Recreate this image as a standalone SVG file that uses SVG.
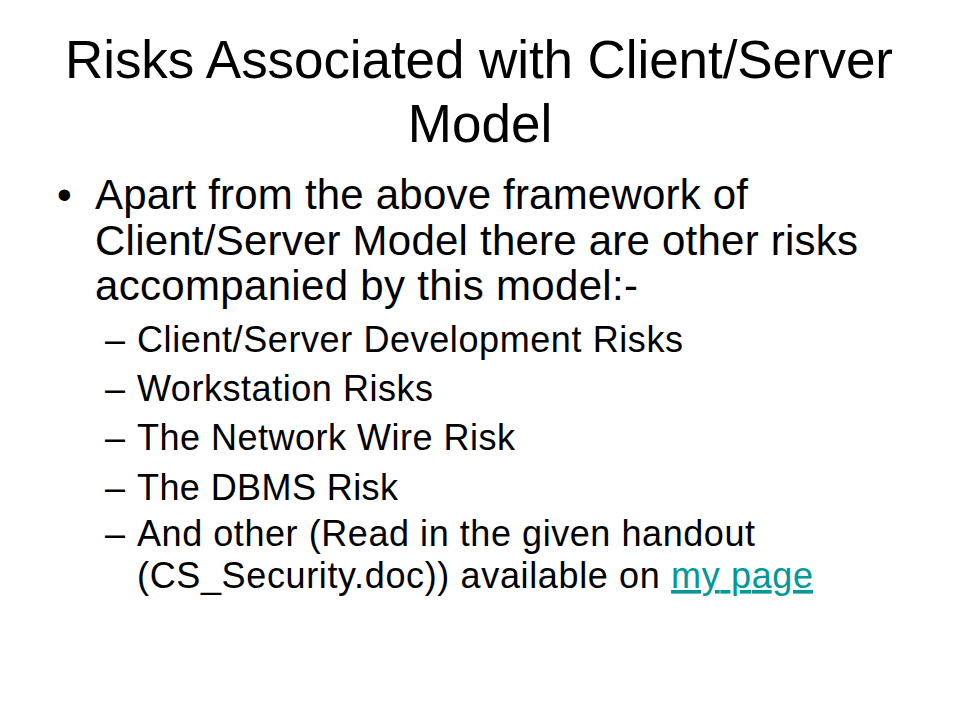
<svg xmlns="http://www.w3.org/2000/svg" width="960" height="720" viewBox="0 0 960 720">
<style>
text{font-family:"Liberation Sans",Arial,sans-serif;fill:#000}
.t{font-size:53px;text-anchor:middle}
.b{font-size:42px}
.s{font-size:36px}
.l{fill:#009999;text-decoration:underline}
</style>
<rect width="960" height="720" fill="#fff"/>
<g id="title">
<text class="t" x="479" y="78" textLength="828" lengthAdjust="spacing">Risks Associated with Client/Server</text>
<text class="t" x="480" y="142">Model</text>
</g>
<g id="body">
<text class="b" x="57" y="209">•</text>
<text class="b" x="95" y="209" textLength="653" lengthAdjust="spacing">Apart from the above framework of</text>
<text class="b" x="95" y="255" textLength="763" lengthAdjust="spacing">Client/Server Model there are other risks</text>
<text class="b" x="95" y="300" textLength="543" lengthAdjust="spacing">accompanied by this model:-</text>
<text class="s" x="105" y="352">–</text>
<text class="s" x="137" y="352" textLength="546" lengthAdjust="spacing">Client/Server Development Risks</text>
<text class="s" x="105" y="401">–</text>
<text class="s" x="137" y="401" textLength="296" lengthAdjust="spacing">Workstation Risks</text>
<text class="s" x="105" y="450">–</text>
<text class="s" x="137" y="450" textLength="378" lengthAdjust="spacing">The Network Wire Risk</text>
<text class="s" x="105" y="500">–</text>
<text class="s" x="137" y="500" textLength="261" lengthAdjust="spacing">The DBMS Risk</text>
<text class="s" x="105" y="546">–</text>
<text class="s" x="137" y="546" textLength="618" lengthAdjust="spacing">And other (Read in the given handout</text>
<text class="s" x="137" y="588" textLength="676" lengthAdjust="spacing">(CS_Security.doc)) available on <tspan class="l">my page</tspan></text>
</g>
</svg>
